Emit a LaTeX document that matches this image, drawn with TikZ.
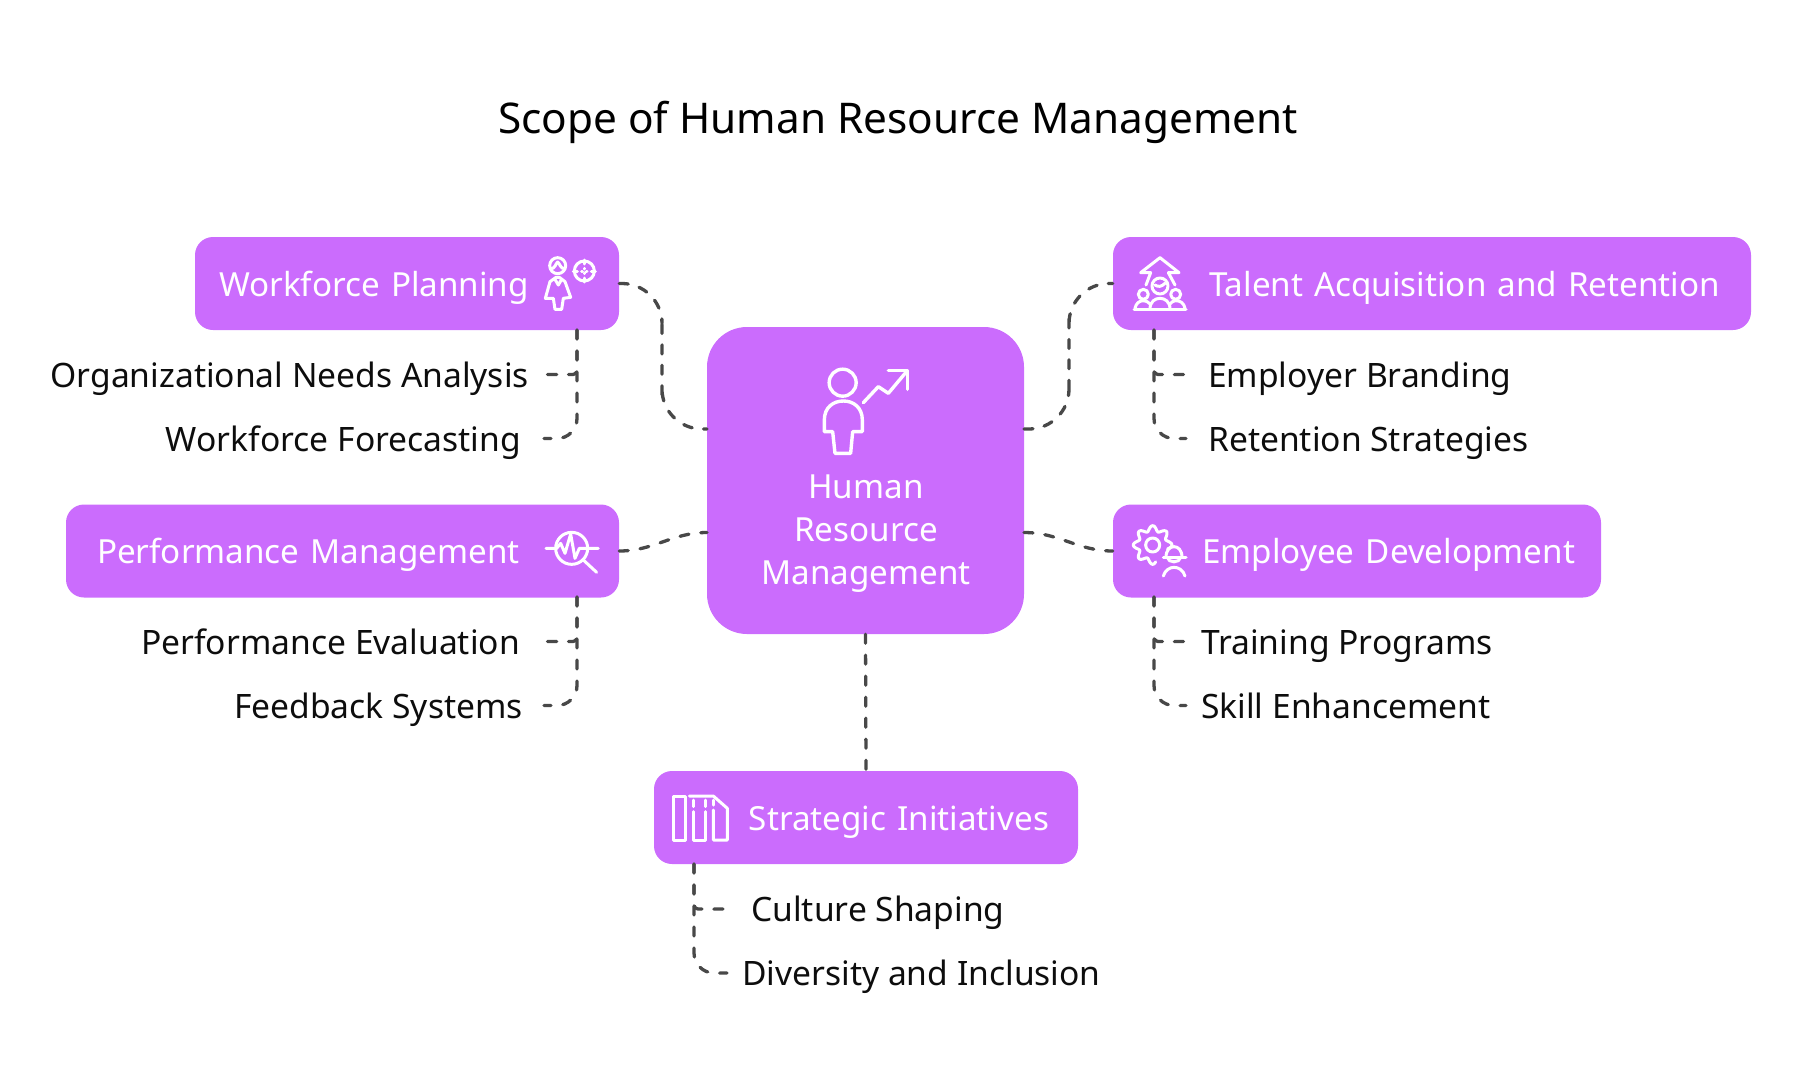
\documentclass[tikz,border=0pt]{standalone}
\usepackage{fontspec}
\setmainfont{Noto Sans}
\definecolor{hrmpurple}{HTML}{CB6CFD}
\definecolor{linkgray}{HTML}{484848}
\tikzset{
    hrmbox/.style={fill=hrmpurple, rounded corners=18pt, text=white, minimum height=93pt,
        inner ysep=0pt, text height=32pt, text depth=6.5pt, font=\fontsize{33.2}{43}\selectfont},
    sublabel/.style={text=black!95, inner ysep=0pt, inner xsep=#1, text height=32pt, text depth=6.5pt,
        font=\fontsize{33.6}{43}\selectfont},
    link/.style={draw=linkgray, line width=3.3pt, line cap=round, dash pattern=on 9pt off 12pt},
    iconline/.style={draw=white, line width=#1, line cap=round, line join=round},
    iconline/.default=3pt
}
\begin{document}
\begin{tikzpicture}[x=1pt, y=-1pt]
    \useasboundingbox (0,0) rectangle (1796,1080);
    \node (title) [font=\fontsize{42.3}{52}\selectfont] at (898,122) {Scope of Human Resource Management};

    \node (hrm) [fill=hrmpurple, rounded corners=40pt, minimum width=317pt, minimum height=307pt] at (865.5,480.5) {};
    \node (hrmtext) [text=white, align=center, font=\fontsize{33.2}{43}\selectfont] at (866,534) {Human\\Resource\\Management};

    \node (wfbox) [hrmbox, inner xsep=24pt, text width=376pt, align=left] at (407,283.5) {Workforce Planning};
    \node (pmbox) [hrmbox, inner xsep=31pt, text width=491pt, align=left] at (342.5,551) {Performance Management};
    \node (tabox) [hrmbox, inner xsep=31pt, text width=576pt, align=right] at (1432,283.5) {Talent Acquisition and Retention};
    \node (edbox) [hrmbox, inner xsep=26pt, text width=436pt, align=right] at (1357,551) {Employee Development};
    \node (sibox) [hrmbox, inner xsep=29pt, text width=366pt, align=right] at (866,817.5) {Strategic Initiatives};

    \node (orgneeds) [sublabel=18pt, anchor=east] at (547,374.5) {Organizational Needs Analysis};
    \node (forecast) [sublabel=23pt, anchor=east] at (544,438.5) {Workforce Forecasting};
    \node (evaluation) [sublabel=27pt, anchor=east] at (547,641.5) {Performance Evaluation};
    \node (feedback) [sublabel=21pt, anchor=east] at (544,705.5) {Feedback Systems};
    \node (branding) [sublabel=22pt, anchor=west] at (1186,374.5) {Employer Branding};
    \node (retention) [sublabel=22pt, anchor=west] at (1186,438.5) {Retention Strategies};
    \node (training) [sublabel=15pt, anchor=west] at (1186,641.5) {Training Programs};
    \node (skills) [sublabel=15pt, anchor=west] at (1186,705.5) {Skill Enhancement};
    \node (culture) [sublabel=24pt, anchor=west] at (727,909) {Culture Shaping};
    \node (diversity) [sublabel=15pt, anchor=west] at (727,973) {Diversity and Inclusion};

    \coordinate (hrmup) at (707,429);
    \coordinate (hrmdown) at (707,532.5);
    \coordinate (hrmrightup) at (1024,429);
    \coordinate (hrmrightdown) at (1024,532.5);
    \coordinate (wfbend) at (662,356);
    \coordinate (tabend) at (1069,356);
    \coordinate (wfstem) at (577,330);
    \coordinate (pmstem) at (577,597);
    \coordinate (tastem) at (1154,330);
    \coordinate (edstem) at (1154,597);
    \coordinate (sistem) at (694,864);

    \draw [link, dash pattern=on 9pt off 11.4pt, rounded corners=40pt] (wfbox.east) -| (wfbend) |- (hrmup);
    \draw [link, dash pattern=on 9pt off 11.4pt, rounded corners=40pt] (hrmrightup) -| (tabend) |- (tabox.west);
    \draw [link] (pmbox.east) to[out=0, in=180] (hrmdown);
    \draw [link] (hrmrightdown) to[out=0, in=180] (edbox.west);
    \draw [link] (hrm.south) -- (sibox.north);

    \draw [link, rounded corners=4pt] (wfstem) |- (orgneeds.east);
    \draw [link, rounded corners=20pt] (wfstem) |- (forecast.east);
    \draw [link, rounded corners=4pt] (pmstem) |- (evaluation.east);
    \draw [link, rounded corners=20pt] (pmstem) |- (feedback.east);
    \draw [link, rounded corners=4pt] (tastem) |- (branding.west);
    \draw [link, rounded corners=20pt] (tastem) |- (retention.west);
    \draw [link, rounded corners=4pt] (edstem) |- (training.west);
    \draw [link, rounded corners=20pt] (edstem) |- (skills.west);
    \draw [link, rounded corners=4pt] (sistem) |- (culture.west);
    \draw [link, rounded corners=20pt] (sistem) |- (diversity.west);

    \begin{scope}[shift={(700,320)}, x=0.3333pt, y=-0.3333pt]
        \draw [iconline=3.4pt] (428,188) circle [radius=13.5pt];
        \draw [iconline=3.4pt] (373,335) -- (373,300) .. controls (373,262) and (400,243) .. (430,243)
            .. controls (460,243) and (487,262) .. (487,300) -- (487,335) -- (458,335) -- (452,400) -- (405,400) -- (398,335) -- cycle;
        \draw [iconline=3.4pt] (490,248) -- (535,200) -- (565,220) -- (622,152);
        \draw [iconline=3.4pt] (565,152) -- (622,152) -- (622,208);
    \end{scope}

    \begin{scope}[shift={(520,220)}, x=0.3333pt, y=-0.3333pt]
        \draw [iconline] (113,137) circle [radius=8pt];
        \draw [iconline] (92,146) .. controls (105,148) and (108,128) .. (113,126) .. controls (118,128) and (122,148) .. (134,146);
        \draw [iconline] (108,172) -- (90,185) -- (76,235) -- (100,235) -- (105,268) -- (125,268) -- (130,235) -- (152,232) -- (135,185) -- (118,172) -- cycle;
        \draw [iconline] (105,178) -- (115,195) -- (125,178);
        \draw [iconline] (193,153) circle [radius=10pt];
        \draw [iconline] (193,120) -- (193,132) (193,174) -- (193,186) (160,153) -- (172,153) (214,153) -- (226,153);
        \draw [iconline] (193,145) -- (193,147) (193,159) -- (193,161) (185,153) -- (187,153) (199,153) -- (201,153);
    \end{scope}

    \begin{scope}[shift={(530,510)}, x=0.3333pt, y=-0.3333pt]
        \draw [iconline] (125,115) circle [radius=16pt];
        \draw [iconline] (48,115) -- (80,115) -- (92,100) -- (105,130) -- (122,72) -- (135,145) -- (148,115) -- (205,115);
        \draw [iconline] (160,150) -- (200,187);
    \end{scope}

    \begin{scope}[shift={(1110,230)}, x=0.3333pt, y=-0.3333pt]
        \draw [iconline] (108,165) -- (122,128) -- (92,128) -- (150,83) -- (207,128) -- (175,128) -- (195,165);
        \draw [iconline] (150,168) circle [radius=8pt];
        \draw [iconline] (135,165) .. controls (145,172) and (155,170) .. (165,160);
        \draw [iconline] (100,193) circle [radius=5pt];
        \draw [iconline] (197,193) circle [radius=5pt];
        \draw [iconline] (72,237) -- (228,237);
        \draw [iconline] (120,237) .. controls (120,215) and (135,205) .. (150,205) .. controls (165,205) and (180,215) .. (180,237);
        \draw [iconline] (75,235) .. controls (78,220) and (88,212) .. (100,212) .. controls (108,212) and (115,216) .. (120,222);
        \draw [iconline] (225,235) .. controls (222,220) and (212,212) .. (197,212) .. controls (190,212) and (185,216) .. (180,222);
    \end{scope}

    \begin{scope}[shift={(1110,500)}, x=0.3333pt, y=-0.3333pt]
        \draw [iconline] plot [domain=80:375, samples=90, smooth] ({128+(50+8*cos(8*\x))*cos(\x)}, {135+(50+8*cos(8*\x))*sin(\x)});
        \draw [iconline] (128,135) circle [radius=7pt];
        \draw [iconline] (160,172) -- (228,172);
        \draw [iconline] (168,172) .. controls (168,150) and (180,140) .. (192,140) .. controls (204,140) and (216,150) .. (216,172);
        \draw [iconline] (172,172) .. controls (174,190) and (210,190) .. (212,172);
        \draw [iconline] (160,228) .. controls (165,210) and (180,202) .. (192,202) .. controls (205,202) and (220,210) .. (225,228);
    \end{scope}

    \begin{scope}[shift={(650,770)}, x=0.3333pt, y=-0.3333pt]
        \draw [iconline] (70,78) rectangle (107,210);
        \draw [iconline] (118,78) -- (190,78) -- (232,115) -- (232,210) -- (190,210) -- (190,120);
        \draw [iconline] (130,125) -- (130,210) -- (165,210) -- (165,125);
        \draw [iconline] (130,90) -- (130,110) (165,90) -- (165,110) (190,90) -- (190,105);
    \end{scope}
\end{tikzpicture}
\end{document}
